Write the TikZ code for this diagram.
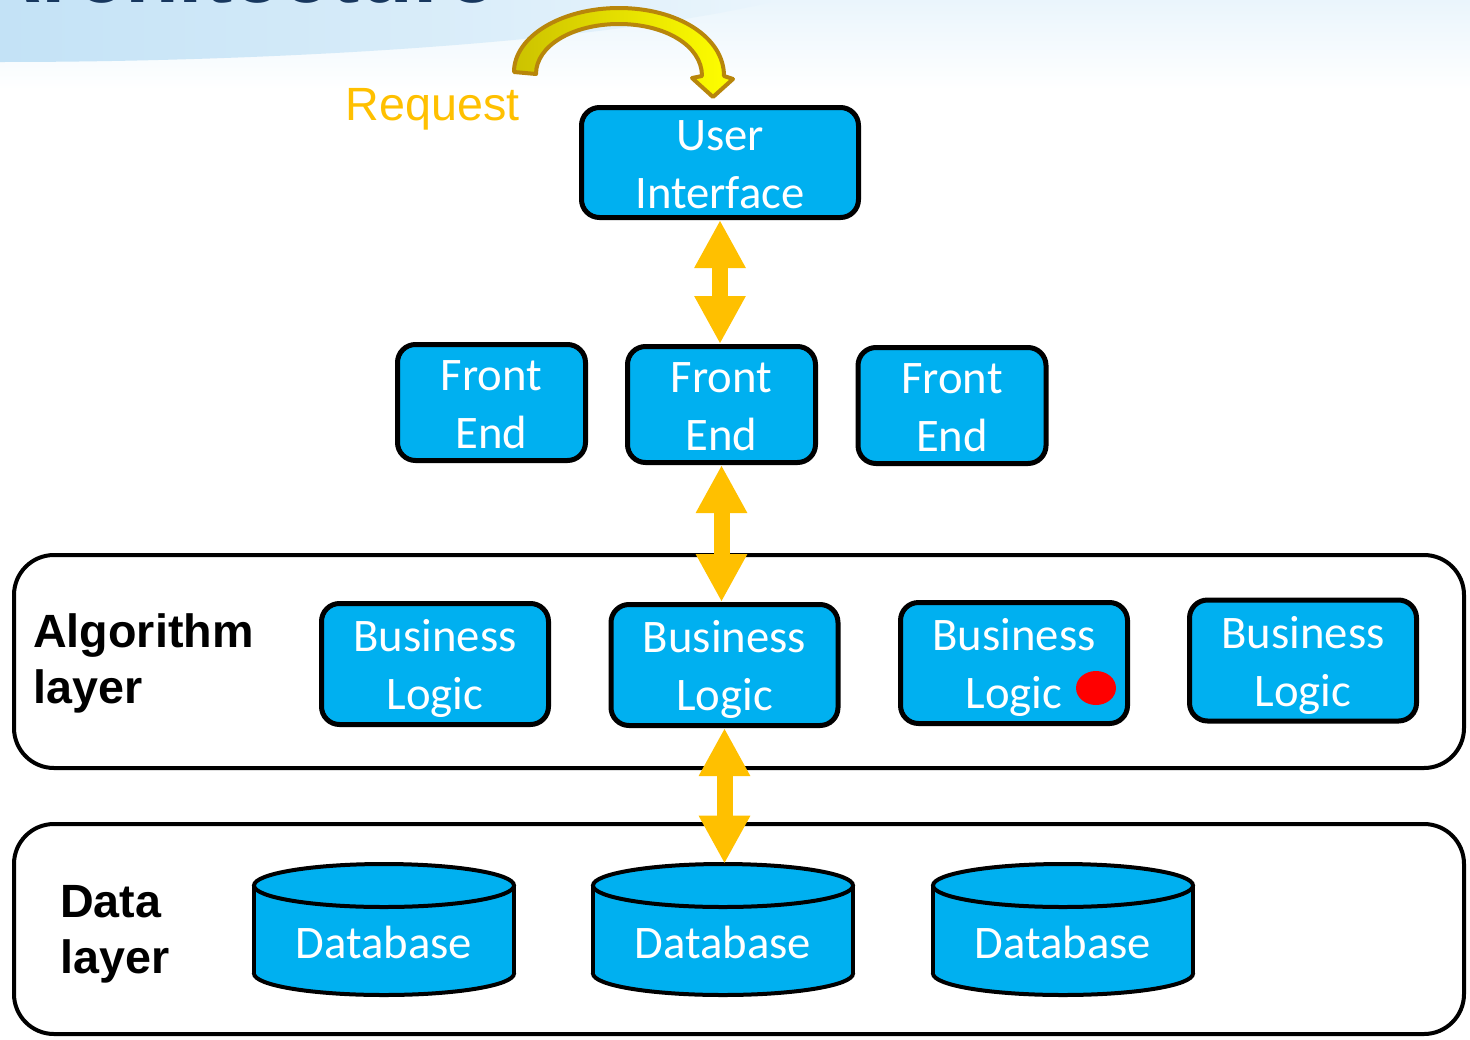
\documentclass[tikz,border=0pt]{standalone}
\usepackage{fontspec}
\setmainfont{Liberation Sans}
\newfontfamily\calfont{Carlito}
\usetikzlibrary{shapes.geometric,arrows.meta,calc}
\newdimen\upx \upx=0.75pt
\definecolor{boxblue}{HTML}{00B0F0}
\definecolor{arrowor}{HTML}{FFC000}
\definecolor{goldedge}{HTML}{B8860B}
\definecolor{olivey}{HTML}{CCC200}
\definecolor{titlenavy}{HTML}{17375E}
\definecolor{skyblue}{HTML}{C3E2F6}
\definecolor{paleblue}{HTML}{EAF5FC}
\begin{document}
\begin{tikzpicture}[x=0.75pt,y=-0.75pt,
  blk/.style={rounded corners=18\upx, draw=black, line width=3.75pt, fill=boxblue,
    text=white, font=\calfont\fontsize{35pt}{43.5pt}\selectfont, align=center, inner sep=0pt},
  uibox/.style={blk, minimum width=277\upx, minimum height=110\upx},
  febox/.style={blk, minimum width=188\upx, minimum height=116\upx},
  blbox/.style={blk, minimum width=227\upx, minimum height=121\upx},
  layerbox/.style={draw=black, line width=3pt, rounded corners=40\upx, fill=white,
    minimum width=1450\upx, inner sep=0pt},
  layerlbl/.style={anchor=west, align=left, inner sep=0pt,
    font=\bfseries\fontsize{35pt}{42pt}\selectfont},
  dbarea/.style={minimum width=264\upx, minimum height=131\upx, inner sep=0pt},
  dbtext/.style={text=white, inner sep=0pt, font=\calfont\fontsize{35pt}{42pt}\selectfont},
  dbl/.style={draw=arrowor, line width=12pt,
    {Triangle[length=36pt,width=36pt]}-{Triangle[length=36pt,width=36pt]}},
  cyl/.style={line width=3pt}
]
\useasboundingbox (0,0) rectangle (1470,1039);
\clip (0,0) rectangle (1470,1039);

% background swoosh
\shade[top color=paleblue, bottom color=white] (0,0) rectangle (1470,90);
\shade[left color=skyblue, right color=paleblue]
  (0,0) -- (780,0) .. controls (620,40) and (300,62) .. (0,62) -- cycle;
\node[anchor=base east, inner sep=0pt, text=titlenavy,
  font=\bfseries\fontsize{66pt}{70pt}\selectfont] (title) at (497,2.5) {Architecture};

% layers
\node[layerbox, minimum height=213\upx] (alglayer) at (739,661.5) {};
\node[layerbox, minimum height=210\upx] (datalayer) at (739,929) {};
\node[layerlbl] (alglbl) at (33,663) {Algorithm\\layer};
\node[layerlbl] (datalbl) at (60,934) {Data\\layer};

% top
\node[uibox] (ui) at (720,162.5) {\rule{0pt}{26pt}User\\Interface};
\node[anchor=base, inner sep=0pt, text=arrowor, font=\fontsize{35pt}{42pt}\selectfont] (req) at (432.5,120) {Request};

% curved request arrow
\draw[goldedge, line width=3pt, line join=round, left color=olivey, right color=yellow]
  (514,72) .. controls (514,36.7) and (561,8) .. (619,8)
  .. controls (677,8) and (724,36.7) .. (724,76)
  -- (733,79) -- (713,97) -- (692,78) -- (702,76)
  .. controls (702,45.5) and (664.8,24) .. (619,24)
  .. controls (573.2,24) and (536,45.5) .. (536,74) -- cycle;

% front ends
\node[febox] (fe1) at (491.5,402.5) {\rule{0pt}{26pt}Front\\End};
\node[febox] (fe2) at (721.5,404.5) {\rule{0pt}{26pt}Front\\End};
\node[febox] (fe3) at (952,405.5) {\rule{0pt}{26pt}Front\\End};

% business logic
\node[blbox] (bl1) at (435,664) {\rule{0pt}{31pt}Business\\Logic};
\node[blbox] (bl2) at (724.5,665) {\rule{0pt}{31pt}Business\\Logic};
\node[blbox] (bl3) at (1014,663) {\rule{0pt}{31pt}Business\\Logic};
\node[blbox] (bl4) at (1303,660.5) {\rule{0pt}{31pt}Business\\Logic};
\node[ellipse, fill=red, minimum width=40\upx, minimum height=34\upx, inner sep=0pt] (dot) at (1096,688) {};

% databases
\foreach \n/\cx in {1/384, 2/723, 3/1063}{
  \filldraw[cyl, fill=boxblue, draw=black] (\cx,973.5) ellipse [x radius=130\upx, y radius=21.5\upx];
  \fill[boxblue] (\cx-130,885.5) rectangle (\cx+130,973.5);
  \draw[cyl] (\cx-130,885.5) -- (\cx-130,973.5);
  \draw[cyl] (\cx+130,885.5) -- (\cx+130,973.5);
  \filldraw[cyl, fill=boxblue, draw=black] (\cx,885.5) ellipse [x radius=130\upx, y radius=21.5\upx];
  \node[dbarea] (db\n) at (\cx,929.5) {};
  \node[dbtext] (db\n t) at (\cx,942) {Database};
}

% connectors
\draw[dbl] (ui.south) -- (ui.south |- fe2.north);
\draw[dbl] (fe2.south) -- (fe2.south |- bl2.north);
\draw[dbl] (bl2.south) -- (bl2.south |- db2.north);
\end{tikzpicture}
\end{document}
